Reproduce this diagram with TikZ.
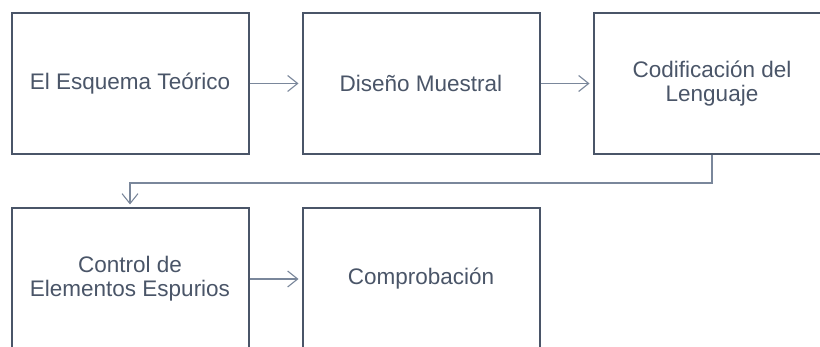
\documentclass[tikz,border=0pt]{standalone}
\usepackage{fontspec}
\setmainfont{Liberation Sans}
\usetikzlibrary{arrows.meta}
\definecolor{boxline}{HTML}{4A5568}
\definecolor{txt}{HTML}{4A5568}
\definecolor{conn}{HTML}{7A879B}
\tikzset{
  stepbox/.style={draw=boxline, line width=2pt, fill=white, minimum width=237pt, minimum height=141pt,
    inner sep=0pt, align=center, text=txt, font=\fontsize{22.5}{24}\selectfont},
  flow/.style={draw=conn, line width=1.1pt, shorten >=3pt,
    -{Straight Barb[length=10pt, width=16pt, line width=1.1pt]}}
}
\begin{document}
\begin{tikzpicture}[x=1pt,y=-1pt]
\useasboundingbox (0,0) rectangle (820,347);
\node[stepbox] (a) at (130,83.5) {El Esquema Teórico};
\node[stepbox] (b) at (421,83.5) {Diseño Muestral};
\node[stepbox] (c) at (712,83.5) {Codificación del\\Lenguaje};
\node[stepbox] (d) at (130,279) {Control de\\Elementos Espurios};
\node[stepbox] (e) at (421,279) {Comprobación};
\coordinate (m) at (0,183);
\draw[flow] (a) -- (b);
\draw[flow] (b) -- (c);
\draw[flow] (d) -- (e);
\draw[flow] (c.south) -- (c.south |- m) -| (d.north);
\end{tikzpicture}
\end{document}
